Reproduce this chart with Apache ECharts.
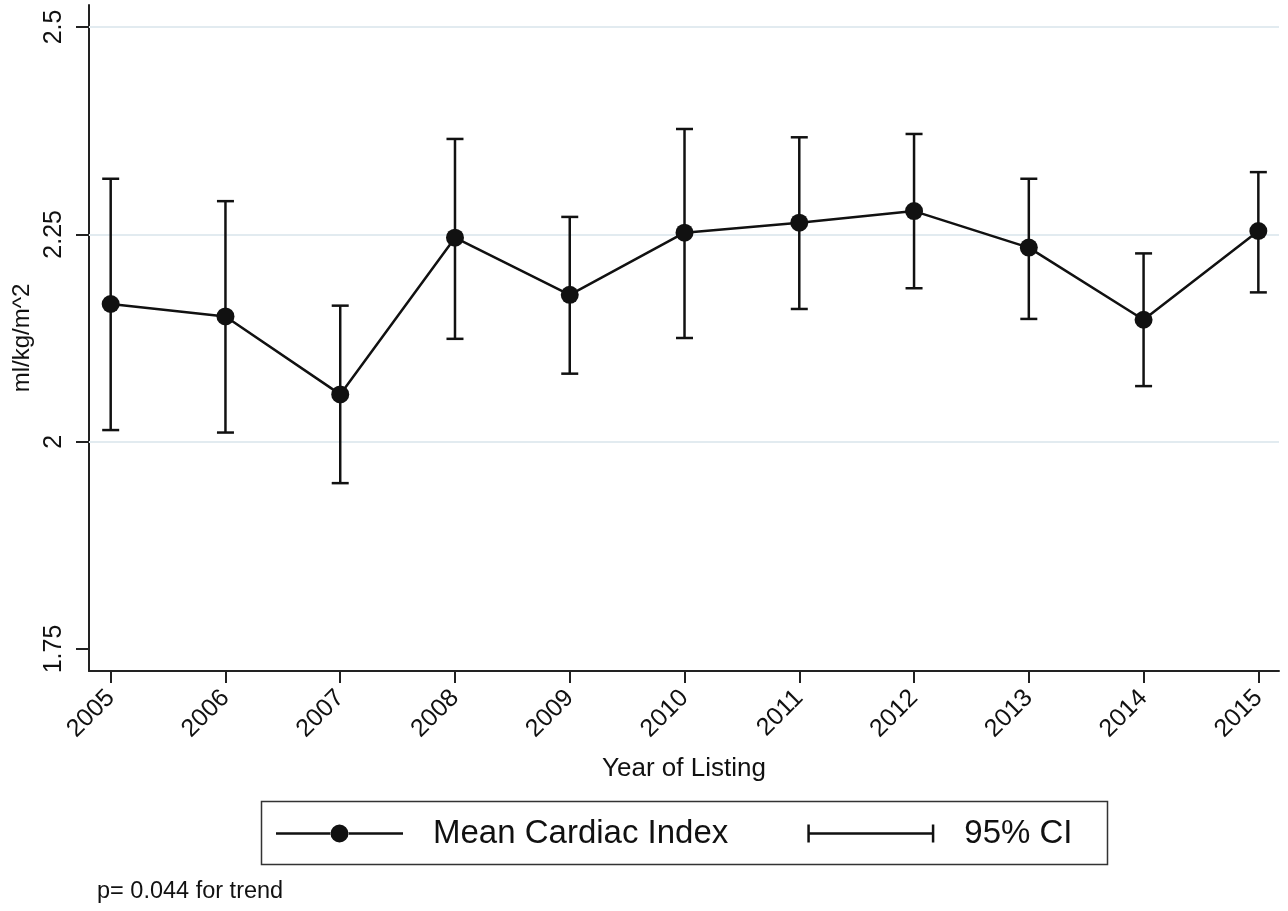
<!DOCTYPE html>
<html>
<head>
<meta charset="utf-8">
<script src="https://cdn.jsdelivr.net/npm/echarts@6/dist/echarts.min.js"></script>
<style>
  html, body { margin: 0; padding: 0; background: #fff; }
  #chart { width: 1288px; height: 911px; }
</style>
</head>
<body>
<div id="chart"></div>
<script>
// data
const years = [2005, 2006, 2007, 2008, 2009, 2010, 2011, 2012, 2013, 2014, 2015];
const meanCI = [2.166, 2.151, 2.057, 2.246, 2.177, 2.252, 2.264, 2.278, 2.234, 2.147, 2.254];
const ciLow = [2.014, 2.011, 1.950, 2.124, 2.082, 2.125, 2.160, 2.185, 2.148, 2.067, 2.180];
const ciHigh = [2.317, 2.290, 2.164, 2.365, 2.271, 2.377, 2.367, 2.371, 2.317, 2.227, 2.325];
const yTicks = [1.75, 2, 2.25, 2.5];
const gridValues = [2, 2.25, 2.5];

const font = 'Liberation Sans, Arial, Helvetica, sans-serif';

const chart = echarts.init(document.getElementById('chart'));

const meanData = years.map((y, i) => [y, meanCI[i]]);
const ciData = years.map((y, i) => [y, ciLow[i], ciHigh[i]]);

function renderCI(params, api) {
  const x = api.value(0);
  const lo = api.coord([x, api.value(1)]);
  const hi = api.coord([x, api.value(2)]);
  const half = 8.5;
  const style = { stroke: '#111', lineWidth: 2.5 };
  return {
    type: 'group',
    children: [
      { type: 'line', shape: { x1: lo[0], y1: lo[1], x2: hi[0], y2: hi[1] }, style: style },
      { type: 'line', shape: { x1: lo[0] - half, y1: lo[1], x2: lo[0] + half, y2: lo[1] }, style: style },
      { type: 'line', shape: { x1: hi[0] - half, y1: hi[1], x2: hi[0] + half, y2: hi[1] }, style: style }
    ]
  };
}

const option = {
  backgroundColor: '#fff',
  animation: false,
  textStyle: { fontFamily: font },
  grid: {
    left: 89,
    right: 9,
    top: 5,
    bottom: 240,
    containLabel: false
  },
  xAxis: {
    type: 'value',
    min: 2004.811,
    max: 2015.18,
    name: 'Year of Listing',
    nameLocation: 'middle',
    nameGap: 85,
    nameTextStyle: { fontSize: 26, color: '#111', fontFamily: font },
    axisLine: { show: true, lineStyle: { color: '#222', width: 2 } },
    axisTick: { show: true, length: 12, customValues: years, lineStyle: { color: '#222', width: 2 } },
    axisLabel: {
      customValues: years,
      rotate: 45,
      fontSize: 25,
      color: '#111',
      margin: 23,
      formatter: v => String(v)
    },
    splitLine: { show: false }
  },
  yAxis: {
    type: 'value',
    min: 1.7235,
    max: 2.5265,
    name: 'ml/kg/m^2',
    nameLocation: 'middle',
    nameRotate: 90,
    nameGap: 52,
    nameTextStyle: { fontSize: 24, color: '#111', fontFamily: font },
    axisLine: { show: true, lineStyle: { color: '#222', width: 2 } },
    axisTick: { show: true, length: 13, customValues: yTicks, lineStyle: { color: '#222', width: 2 } },
    axisLabel: {
      customValues: yTicks,
      rotate: 90,
      fontSize: 25,
      color: '#111',
      margin: 22,
      formatter: v => String(v)
    },
    splitLine: { show: false }
  },
  legend: {
    left: 271,
    top: 812,
    itemWidth: 127,
    itemHeight: 18,
    itemGap: 79,
    textStyle: { fontSize: 33, color: '#111', fontFamily: font, padding: [0, 0, 0, 25] },
    data: [
      {
        name: 'Mean Cardiac Index',
        icon: 'path://M0,7.75h55v2.5h-55z M72,7.75h55v2.5h-55z M54.5,9a9,9 0 1,0 18,0a9,9 0 1,0 -18,0z',
        itemStyle: { color: '#111' }
      },
      {
        name: '95% CI',
        icon: 'path://M0,0h2.5v18h-2.5z M0,7.75h127v2.5h-127z M124.5,0h2.5v18h-2.5z',
        itemStyle: { color: '#111' }
      }
    ]
  },
  graphic: [
    {
      type: 'rect',
      left: 259,
      top: 799,
      shape: { width: 846, height: 63 },
      style: { fill: 'none', stroke: '#333', lineWidth: 1.5 },
      silent: true
    },
    {
      type: 'text',
      left: 97,
      top: 880,
      style: { text: 'p= 0.044 for trend', fontSize: 23.5, fill: '#111', fontFamily: font }
    }
  ],
  series: [
    {
      name: '95% CI',
      type: 'custom',
      renderItem: renderCI,
      data: ciData,
      encode: { x: 0, y: [1, 2] },
      z: 2
    },
    {
      name: 'Mean Cardiac Index',
      type: 'line',
      data: meanData,
      symbol: 'circle',
      symbolSize: 18,
      itemStyle: { color: '#111' },
      lineStyle: { color: '#111', width: 2.5 },
      z: 3,
      markLine: {
        silent: true,
        symbol: 'none',
        label: { show: false },
        lineStyle: { color: '#e2ebf0', width: 2, type: 'solid' },
        data: gridValues.map(v => ({ yAxis: v })),
        z: 1
      }
    }
  ]
};

chart.setOption(option);
</script>
</body>
</html>
